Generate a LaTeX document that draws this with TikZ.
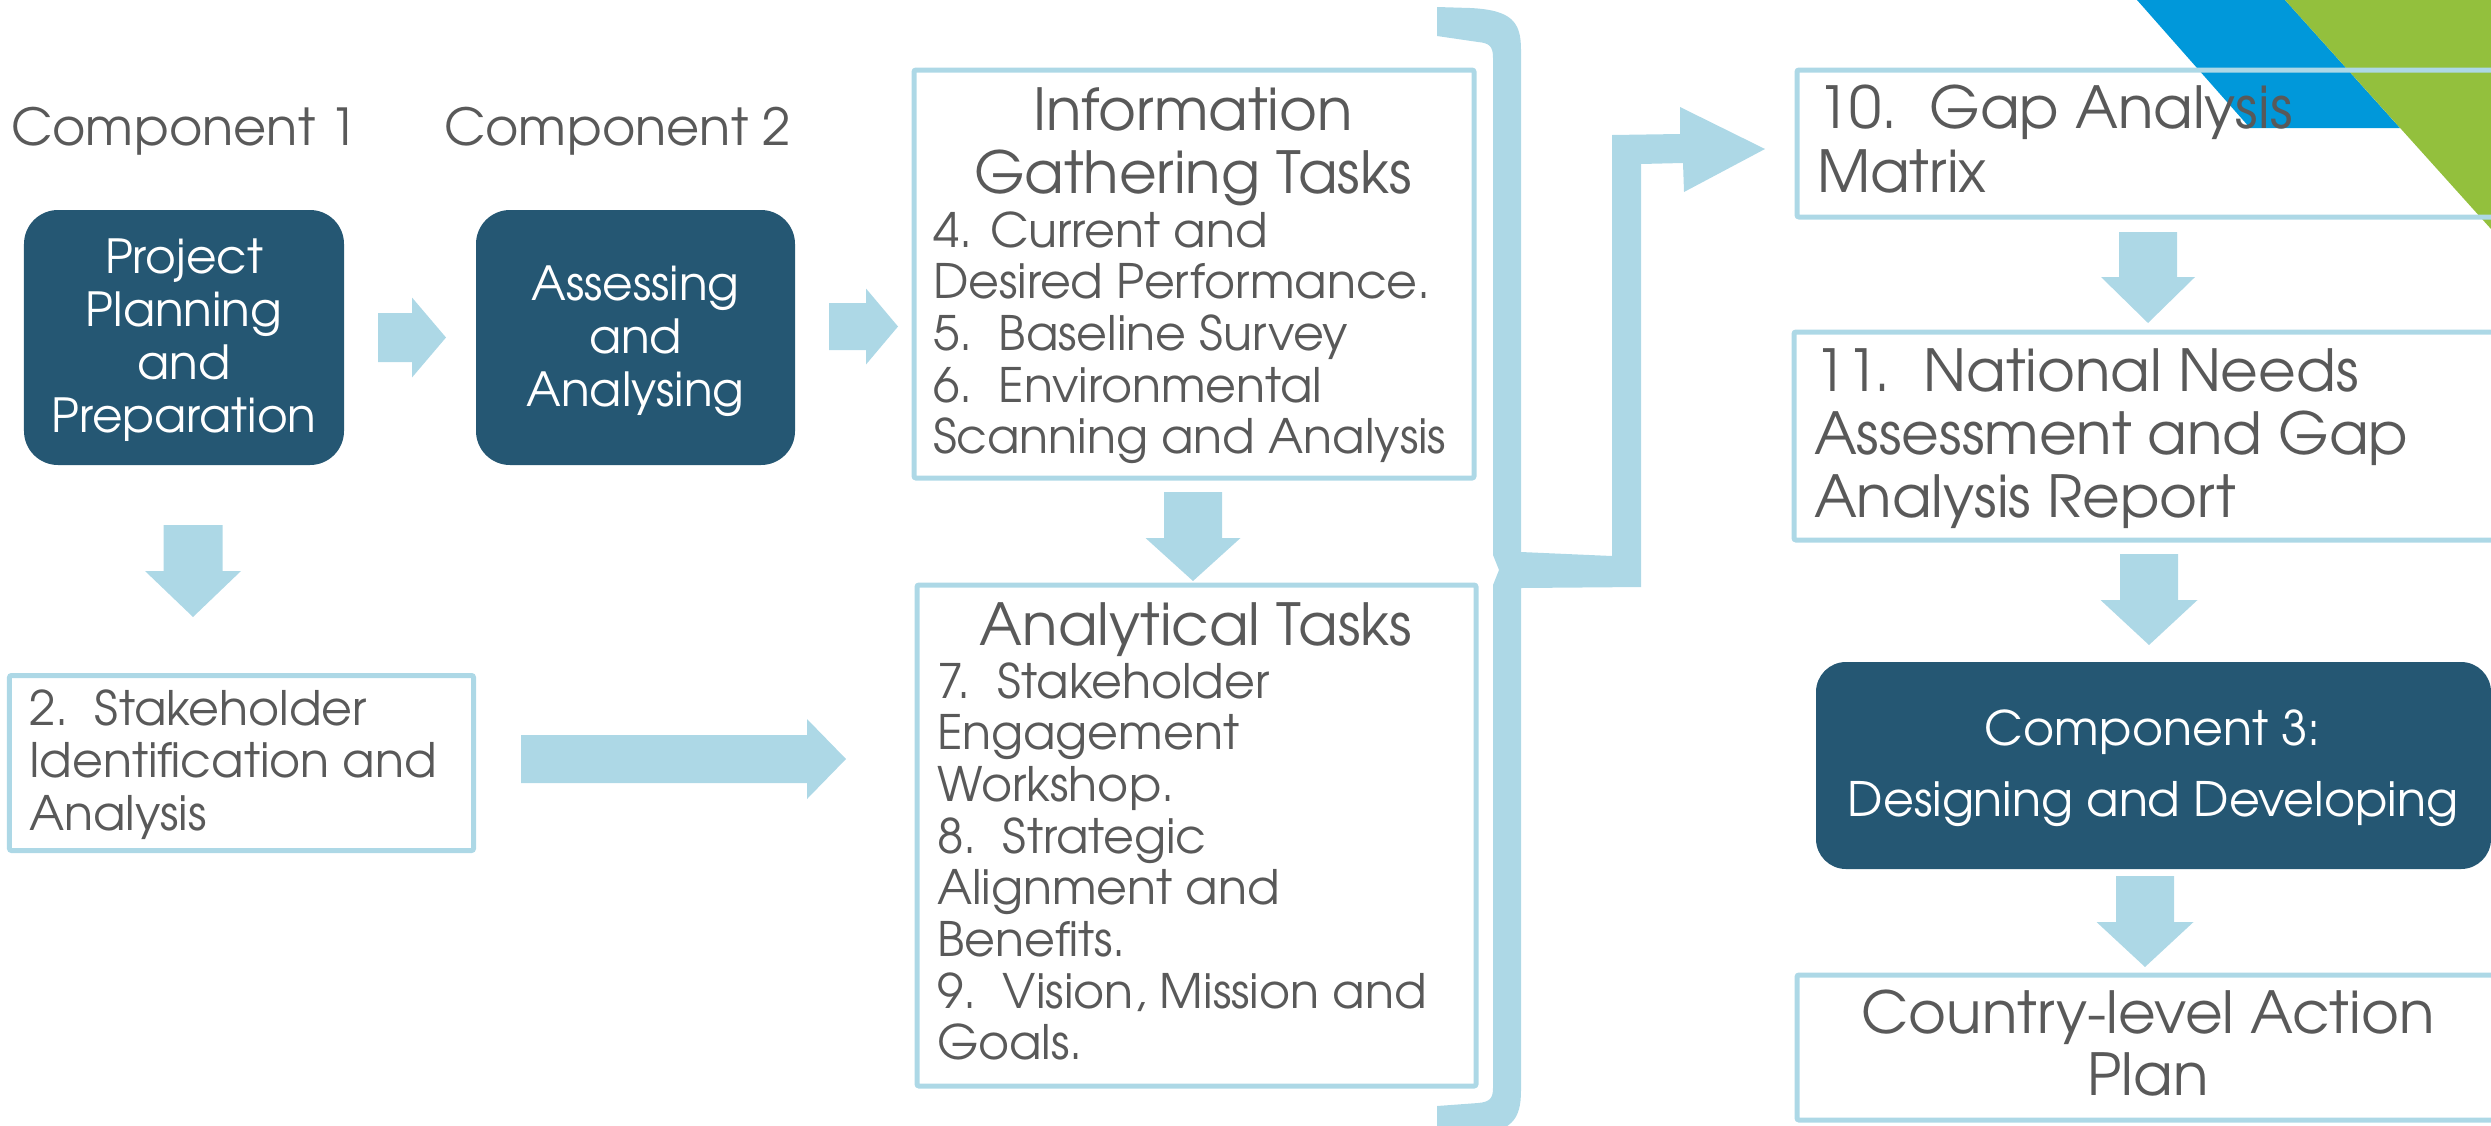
\documentclass[tikz,border=0pt]{standalone}
\usepackage{fontspec}
\setmainfont{TeX Gyre Adventor}
\usepackage{graphicx}
\definecolor{dark}{RGB}{37,87,115}
\definecolor{lblue}{RGB}{173,216,230}
\definecolor{tgray}{RGB}{89,89,89}
\definecolor{dblue}{RGB}{0,152,218}
\definecolor{dgreen}{RGB}{147,192,61}
\newcommand\linesL[1]{\begin{tabular}[t]{@{}l@{}}#1\end{tabular}}
\newcommand\linesC[1]{\begin{tabular}[t]{@{}c@{}}#1\end{tabular}}
\newcommand\dnarrow[6]{\fill[blk] ({#1-#5},#2) -- ({#1+#5},#2) -- ({#1+#5},#3) -- ({#1+#6},#3) -- (#1,#4) -- ({#1-#6},#3) -- ({#1-#5},#3) -- cycle;}
\newcommand\rtarrow[6]{\fill[blk] (#1,{#2-#5}) -- (#3,{#2-#5}) -- (#3,{#2-#6}) -- (#4,#2) -- (#3,{#2+#6}) -- (#3,{#2+#5}) -- (#1,{#2+#5}) -- cycle;}
\begin{document}
\begin{tikzpicture}[x=1bp,y=-1bp,
  lbox/.style={draw=lblue, line width=5bp, rounded corners=2bp, inner sep=0pt, outer sep=0pt},
  dbox/.style={fill=dark, rounded corners=34bp, inner sep=0pt, outer sep=0pt},
  txt/.style={inner sep=0pt, outer sep=0pt, text=tgray},
  wtxt/.style={inner sep=0pt, outer sep=0pt, text=white},
  body/.style={font={\fontsize{47.5bp}{51.7bp}\selectfont}},
  head/.style={font={\fontsize{58bp}{63bp}\selectfont}},
  blk/.style={fill=lblue}]
\useasboundingbox (0,0) rectangle (2491,1125);
\clip (0,0) rectangle (2491,1125);
% corner decoration
\fill[dblue] (2137,0) -- (2285,0) -- (2400,128) -- (2250,128) -- cycle;
\fill[dgreen] (2285,0) -- (2491,0) -- (2491,229) -- cycle;
% boxes
\node[dbox, minimum width=320bp, minimum height=255bp] (dark1) at (184,337.5) {};
\node[dbox, minimum width=319bp, minimum height=255bp] (dark2) at (635.5,337.5) {};
\node[dbox, rounded corners=30bp, minimum width=675bp, minimum height=207bp] (comp3) at (2153.5,765.5) {};
\node[lbox, minimum width=560bp, minimum height=408bp] (info) at (1194,274) {};
\node[lbox, minimum width=559bp, minimum height=501bp] (anal) at (1196.5,835.5) {};
\node[lbox, minimum width=464bp, minimum height=175bp] (stake) at (241.5,763) {};
\node[lbox, minimum width=763bp, minimum height=147bp] (gap) at (2178.5,143.5) {};
\node[lbox, minimum width=766bp, minimum height=208bp] (nna) at (2177,436) {};
\node[lbox, minimum width=763bp, minimum height=145bp] (plan) at (2178.5,1047.5) {};
% block arrows
\dnarrow{193}{525}{571}{617}{29.5}{48}
\dnarrow{1193}{492}{538}{581}{29}{47.5}
\dnarrow{2148}{232}{277}{323}{29}{47}
\dnarrow{2149}{554}{600}{645}{29}{48.5}
\dnarrow{2145}{876}{922}{967}{29}{48.5}
\rtarrow{378}{337.5}{412}{446}{24.5}{40}
\rtarrow{829}{326.5}{866}{898}{23.5}{38}
\rtarrow{521}{759}{807}{846}{24}{40}
% bracket and bent arrow
\fill[blk] (1437,7) -- (1470,8) .. controls (1512,10) and (1521,22) .. (1521,50) -- (1521,552)
  -- (1612,556) -- (1612,135) -- (1680,134) -- (1680,107) -- (1765,149) -- (1684,192) -- (1683,163)
  -- (1641,164) -- (1641,587) -- (1521,588) -- (1521,1090)
  .. controls (1521,1120) and (1512,1132) .. (1470,1136) -- (1437,1136) -- (1437,1106) -- (1478,1103)
  .. controls (1490,1102) and (1493,1098) .. (1493,1088) -- (1493,585) -- (1499,570) -- (1493,555)
  -- (1493,58) .. controls (1493,47) and (1490,43) .. (1478,42) -- (1437,36) -- cycle;
% texts
\node[txt, anchor=base west, font={\fontsize{51bp}{56bp}\selectfont}] (c1) at (11,145) {Component 1};
\node[txt, anchor=base west, font={\fontsize{51bp}{56bp}\selectfont}] (c2) at (444,145) {Component 2};
\node[wtxt, anchor=base, font={\fontsize{47bp}{53bp}\selectfont}] (t1) at (184,273) {\linesC{Project\\Planning\\and\\Preparation}};
\node[wtxt, anchor=base, font={\fontsize{47bp}{53bp}\selectfont}] (t2) at (635.5,300) {\linesC{Assessing\\and\\Analysing}};
\node[txt, head, anchor=base] (infoh) at (1193,130) {\linesC{Information\\Gathering Tasks}};
\node[txt, body, anchor=base west] (infob) at (933,247) {\linesL{4. Current and\\Desired Performance.\\5.\ \ Baseline Survey\\6.\ \ Environmental\\Scanning and Analysis}};
\node[txt, head, anchor=base] (analh) at (1196,645) {Analytical Tasks};
\node[txt, body, anchor=base west] (analb) at (937,698) {\linesL{7.\ \ Stakeholder\\Engagement\\Workshop.\\8.\ \ Strategic\\Alignment and\\Benefits.\\9.\ \ Vision, Mission and\\Goals.}};
\node[txt, anchor=base west, font={\fontsize{47.5bp}{52.5bp}\selectfont}] (staket) at (29,725) {\linesL{2.\ \ Stakeholder\\Identification and\\Analysis}};
\node[txt, anchor=base west, font={\fontsize{58bp}{64bp}\selectfont}] (gapt) at (1817,128) {\linesL{10.\ \ Gap Analysis\\Matrix}};
\node[txt, anchor=base west, font={\fontsize{58bp}{63bp}\selectfont}] (nnat) at (1814,391) {\linesL{11.\ \ National Needs\\Assessment and Gap\\Analysis Report}};
\node[wtxt, anchor=base, font={\fontsize{47.5bp}{71bp}\selectfont}] (comp3t) at (2153,745) {\linesC{Component 3:\\Designing and Developing}};
\node[txt, anchor=base, font={\fontsize{58bp}{62bp}\selectfont}] (plant) at (2148,1033) {\linesC{Country-level Action\\Plan}};
\end{tikzpicture}
\end{document}
